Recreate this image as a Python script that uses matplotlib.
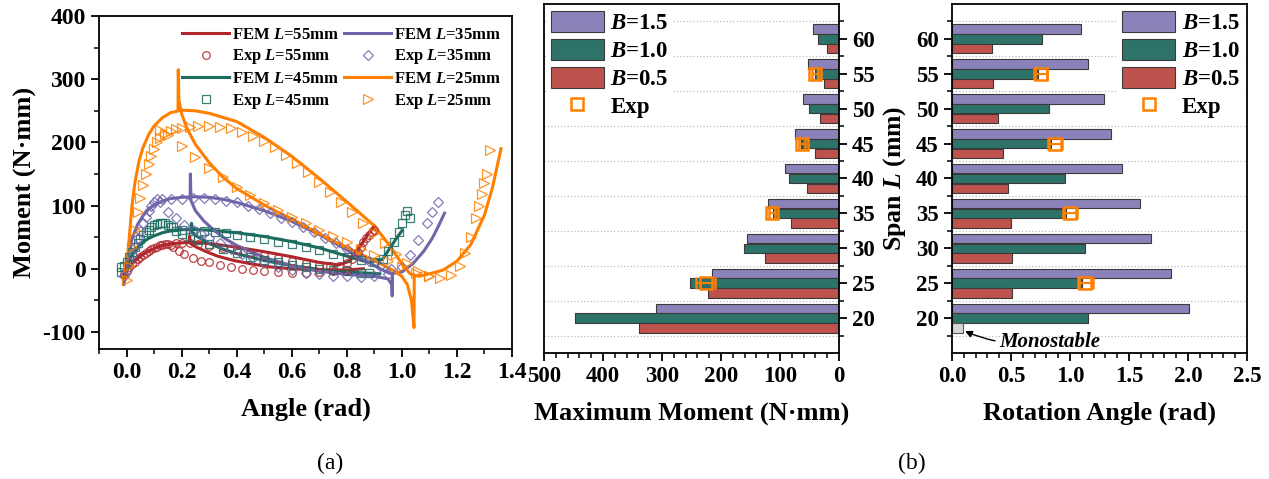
import numpy as np
import matplotlib
matplotlib.use('Agg')
from matplotlib import pyplot as plt
from matplotlib.lines import Line2D
from matplotlib.patches import Patch
from matplotlib.ticker import MultipleLocator, FixedLocator

plt.rcParams['font.family'] = ['Liberation Serif', 'DejaVu Serif']
plt.rcParams['font.weight'] = 'bold'
plt.rcParams['axes.labelweight'] = 'bold'
plt.rcParams['axes.unicode_minus'] = False
plt.rcParams['mathtext.fontset'] = 'custom'
plt.rcParams['mathtext.rm'] = 'Liberation Serif:bold'
plt.rcParams['mathtext.it'] = 'Liberation Serif:italic:bold'
plt.rcParams['mathtext.bf'] = 'Liberation Serif:bold'

# ---- (a) moment vs angle, FEM curves (two branches each) ----
fem55_a_x = [-0.01, 0.0, 0.02, 0.05, 0.08, 0.11, 0.14, 0.17, 0.2, 0.23, 0.27, 0.32, 0.4, 0.5, 0.6, 0.7, 0.77, 0.81, 0.84, 0.87, 0.9]
fem55_a_y = [-8, -2, 8, 20, 28, 34, 38, 40, 41, 42, 41, 39, 34, 27, 19, 10, 6, 12, 30, 50, 68]
fem55_b_x = [0.228, 0.229, 0.232, 0.255, 0.29, 0.33, 0.39, 0.45, 0.52, 0.6, 0.7, 0.8, 0.86]
fem55_b_y = [42, 52, 40, 34, 27, 20, 13, 8, 3, 0, -2, -2, 0]

fem45_a_x = [-0.01, 0.0, 0.02, 0.04, 0.06, 0.08, 0.1, 0.13, 0.16, 0.2, 0.25, 0.3, 0.35, 0.4, 0.5, 0.6, 0.7, 0.8, 0.88, 0.93, 0.96, 0.98, 1.0]
fem45_a_y = [-10, 5, 22, 34, 42, 48, 52, 57, 60, 62, 62, 61, 59, 57, 51, 43, 33, 20, 10, 15, 35, 48, 60]
fem45_b_x = [0.235, 0.236, 0.238, 0.26, 0.3, 0.35, 0.4, 0.5, 0.6, 0.7, 0.8, 0.88, 0.92]
fem45_b_y = [62, 72, 58, 50, 40, 31, 24, 13, 5, -1, -5, -7, -8]

fem35_a_x = [-0.01, -0.005, 0.0, 0.01, 0.02, 0.04, 0.06, 0.08, 0.1, 0.13, 0.16, 0.2, 0.25, 0.3, 0.35, 0.4, 0.5, 0.6, 0.7, 0.8, 0.88, 0.93, 0.96, 1.0, 1.04, 1.08, 1.11, 1.13, 1.155]
fem35_a_y = [-25, -10, 5, 30, 48, 70, 84, 94, 101, 107, 111, 113, 114, 113, 110, 105, 92, 75, 54, 30, 10, -2, -8, -5, 8, 28, 48, 65, 88]
fem35_b_x = [0.231, 0.232, 0.234, 0.25, 0.28, 0.32, 0.36, 0.4, 0.5, 0.6, 0.7, 0.8, 0.9, 0.95, 0.963, 0.965, 0.966]
fem35_b_y = [112, 150, 108, 92, 76, 60, 47, 37, 18, 5, -4, -9, -12, -16, -25, -43, -12]

fem25_a_x = [-0.005, 0.0, 0.01, 0.02, 0.03, 0.045, 0.06, 0.08, 0.1, 0.13, 0.16, 0.2, 0.25, 0.3, 0.4, 0.5, 0.6, 0.7, 0.8, 0.9, 0.95, 1.0, 1.03, 1.06, 1.1, 1.15, 1.2, 1.25, 1.3, 1.33, 1.36]
fem25_a_y = [-17, 0, 50, 100, 135, 170, 192, 212, 226, 239, 247, 251, 250, 246, 233, 208, 178, 143, 106, 68, 40, 8, -8, -12, -8, -2, 12, 38, 85, 130, 190]
fem25_b_x = [0.187, 0.188, 0.19, 0.2, 0.22, 0.25, 0.3, 0.35, 0.4, 0.5, 0.557, 0.6, 0.676, 0.75, 0.8, 0.918, 0.97, 1.0, 1.02, 1.035, 1.044, 1.045]
fem25_b_y = [252, 315, 268, 245, 222, 197, 168, 145, 127, 101, 88, 79, 61, 44, 34, 9, -3, -12, -25, -50, -93, -13]

# ---- (a) experimental points (loading + return branches) ----
exp55_up_x = [-0.01, 0.0, 0.01, 0.02, 0.03, 0.04, 0.05, 0.06, 0.07, 0.08, 0.09, 0.1, 0.11, 0.12, 0.13, 0.14, 0.15, 0.16, 0.18, 0.2, 0.23, 0.26, 0.3, 0.35, 0.4, 0.45, 0.5, 0.55, 0.6, 0.65, 0.7, 0.74, 0.77, 0.8, 0.82, 0.84, 0.85, 0.86, 0.87, 0.88, 0.89, 0.9]
exp55_up_y = [-8, -3, 2, 7, 11, 15, 19, 22, 25, 28, 31, 33, 35, 37, 38, 39, 39, 38, 40, 41, 41, 39, 36, 33, 29, 25, 21, 17, 13, 9, 6, 4, 5, 9, 16, 26, 34, 42, 48, 54, 58, 62]
exp55_dn_x = [0.17, 0.19, 0.21, 0.24, 0.27, 0.3, 0.34, 0.38, 0.42, 0.46, 0.5, 0.55, 0.6, 0.65, 0.7, 0.75, 0.8]
exp55_dn_y = [34, 28, 23, 17, 13, 10, 6, 3, 0, -2, -4, -5, -6, -6, -5, -4, -2]

exp45_up_x = [-0.02, -0.02, -0.01, 0.0, 0.01, 0.02, 0.03, 0.04, 0.05, 0.06, 0.07, 0.08, 0.09, 0.1, 0.11, 0.12, 0.13, 0.14, 0.15, 0.17, 0.2, 0.24, 0.28, 0.32, 0.36, 0.4, 0.45, 0.5, 0.55, 0.6, 0.65, 0.7, 0.75, 0.8, 0.85, 0.9, 0.93, 0.95, 0.97, 0.99, 1.0, 1.01, 1.02, 1.03]
exp45_up_y = [-5, 3, 5, 10, 18, 26, 34, 41, 47, 53, 58, 62, 66, 69, 71, 72, 73, 72, 70, 66, 62, 60, 59, 58, 56, 54, 51, 47, 43, 39, 34, 29, 24, 19, 14, 10, 15, 28, 42, 58, 72, 85, 92, 80]
exp45_dn_x = [0.16, 0.18, 0.2, 0.23, 0.26, 0.3, 0.35, 0.4, 0.45, 0.5, 0.55, 0.6, 0.65, 0.7, 0.75, 0.8, 0.85, 0.88]
exp45_dn_y = [66, 60, 55, 50, 45, 39, 32, 25, 19, 14, 10, 6, 3, 0, -2, -4, -6, -7]

exp35_up_x = [-0.01, 0.0, 0.01, 0.02, 0.03, 0.04, 0.05, 0.06, 0.07, 0.08, 0.09, 0.1, 0.11, 0.13, 0.16, 0.2, 0.24, 0.28, 0.32, 0.36, 0.4, 0.44, 0.48, 0.52, 0.56, 0.6, 0.64, 0.68, 0.72, 0.76, 0.8, 0.84, 0.88, 0.92, 0.96, 1.0, 1.03, 1.06, 1.09, 1.11, 1.13]
exp35_up_y = [-12, -2, 10, 22, 35, 48, 60, 72, 82, 92, 100, 106, 110, 110, 110, 111, 112, 112, 110, 108, 105, 100, 94, 88, 81, 74, 66, 58, 49, 40, 31, 22, 13, 5, -1, 2, 22, 45, 72, 90, 106]
exp35_dn_x = [0.12, 0.15, 0.18, 0.21, 0.24, 0.27, 0.3, 0.34, 0.38, 0.42, 0.46, 0.5, 0.55, 0.6, 0.65, 0.7, 0.75, 0.8, 0.85, 0.9, 0.95]
exp35_dn_y = [106, 90, 80, 70, 62, 55, 48, 40, 32, 24, 17, 10, 3, -2, -6, -9, -11, -12, -13, -12, -8]

exp25_up_x = [0.0, 0.01, 0.02, 0.03, 0.04, 0.05, 0.06, 0.07, 0.08, 0.09, 0.1, 0.11, 0.12, 0.14, 0.16, 0.18, 0.2, 0.23, 0.26, 0.3, 0.34, 0.38, 0.42, 0.46, 0.5, 0.54, 0.58, 0.62, 0.66, 0.7, 0.74, 0.78, 0.82, 0.86, 0.9, 0.94, 0.98, 1.02, 1.06, 1.1, 1.14, 1.18, 1.21, 1.23, 1.25, 1.27, 1.28, 1.29, 1.3, 1.31, 1.32]
exp25_up_y = [-18, 5, 35, 62, 90, 112, 132, 150, 165, 178, 190, 200, 207, 214, 218, 221, 223, 225, 226, 226, 225, 222, 217, 210, 202, 192, 180, 167, 153, 138, 122, 106, 90, 73, 57, 40, 24, 9, -4, -12, -14, -10, 5, 25, 50, 80, 100, 118, 135, 150, 188]
exp25_dn_x = [0.12, 0.15, 0.2, 0.25, 0.3, 0.35, 0.4, 0.45, 0.5, 0.55, 0.6, 0.65, 0.7, 0.75, 0.8, 0.85, 0.9, 0.95, 1.0, 1.05, 1.1]
exp25_dn_y = [220, 212, 195, 177, 160, 145, 130, 117, 104, 93, 82, 72, 62, 52, 42, 32, 22, 12, 2, -6, -12]

# ---- (b) peak moment and rotation angle vs span ----
spans = np.array([20, 25, 30, 35, 40, 45, 50, 55, 60])
moment_b15 = [310, 216, 156, 120, 91, 74, 61, 52, 44]
moment_b10 = [447, 252, 161, 112, 84, 64, 51, 40, 36]
moment_b05 = [339, 222, 125, 81, 55, 41, 33, 26, 21]
angle_b15 = [2.01, 1.86, 1.69, 1.59, 1.44, 1.35, 1.29, 1.15, 1.09]
angle_b10 = [1.15, 1.10, 1.13, 0.97, 0.96, 0.84, 0.82, 0.73, 0.76]
angle_b05 = [np.nan, 0.51, 0.51, 0.50, 0.475, 0.43, 0.39, 0.35, 0.34]
monostable_width = 0.09

exp_spans = np.array([25, 35, 45, 55])
exp_moment = [226, 113, 62, 40]
exp_moment_err = [16, 5, 5, 5]
exp_angle = [1.13, 1.00, 0.87, 0.75]
exp_angle_err = [0.065, 0.06, 0.06, 0.056]

c55, c45, c35, c25 = '#B0262A', '#1B6B5F', '#6F65A8', '#FF8000'
cb15, cb10, cb05 = '#8C82BA', '#2E7369', '#BE524C'
edge = '#3a3a3a'

fig = plt.figure(figsize=(12.69, 4.79), dpi=100)
W, H = 1269, 479


def px_axes(l, t, r, b):
    return fig.add_axes([l / W, 1 - b / H, (r - l) / W, (b - t) / H])


def style_ticks(ax, size):
    ax.tick_params(which='both', direction='out', labelsize=size)
    ax.tick_params(which='major', length=6, width=1.3)
    ax.tick_params(which='minor', length=3.5, width=1.1)
    for s in ax.spines.values():
        s.set_linewidth(1.3)


# ----- panel (a) -----
ax1 = px_axes(99, 16, 512, 349)
lw = 2.2
h_f55, = ax1.plot(fem55_a_x, fem55_a_y, color=c55, lw=lw)
ax1.plot(fem55_b_x, fem55_b_y, color=c55, lw=lw)
h_f45, = ax1.plot(fem45_a_x, fem45_a_y, color=c45, lw=lw)
ax1.plot(fem45_b_x, fem45_b_y, color=c45, lw=lw)
h_f35, = ax1.plot(fem35_a_x, fem35_a_y, color=c35, lw=lw)
ax1.plot(fem35_b_x, fem35_b_y, color=c35, lw=lw)
h_f25, = ax1.plot(fem25_a_x, fem25_a_y, color=c25, lw=lw)
ax1.plot(fem25_b_x, fem25_b_y, color=c25, lw=lw)

mk = dict(ls='none', mfc='none', mew=0.9, alpha=0.85)
h_e55, = ax1.plot(exp55_up_x, exp55_up_y, marker='o', ms=5.5, mec=c55, **mk)
ax1.plot(exp55_dn_x, exp55_dn_y, marker='o', ms=5.5, mec=c55, **mk)
h_e45, = ax1.plot(exp45_up_x, exp45_up_y, marker='s', ms=5.5, mec=c45, **mk)
ax1.plot(exp45_dn_x, exp45_dn_y, marker='s', ms=5.5, mec=c45, **mk)
h_e35, = ax1.plot(exp35_up_x, exp35_up_y, marker='D', ms=5.5, mec=c35, **mk)
ax1.plot(exp35_dn_x, exp35_dn_y, marker='D', ms=5.5, mec=c35, **mk)
h_e25, = ax1.plot(exp25_up_x, exp25_up_y, marker='>', ms=6.5, mec=c25, **mk)
ax1.plot(exp25_dn_x, exp25_dn_y, marker='>', ms=6.5, mec=c25, **mk)

handles = [h_f55, h_e55, h_f45, h_e45, h_f35, h_e35, h_f25, h_e25]
labels = ['FEM $L$=55mm', 'Exp $L$=55mm', 'FEM $L$=45mm', 'Exp $L$=45mm',
          'FEM $L$=35mm', 'Exp $L$=35mm', 'FEM $L$=25mm', 'Exp $L$=25mm']
ax1.legend(handles, labels, loc='upper right', ncol=2, frameon=False, fontsize=12,
           handlelength=2.8, handletextpad=0.2, columnspacing=0.3, labelspacing=0.28,
           borderaxespad=0.25)

ax1.set_xlim(-0.1, 1.4)
ax1.set_ylim(-127, 400)
ax1.xaxis.set_major_locator(MultipleLocator(0.2))
ax1.xaxis.set_minor_locator(MultipleLocator(0.1))
ax1.yaxis.set_major_locator(MultipleLocator(100))
ax1.yaxis.set_minor_locator(MultipleLocator(50))
style_ticks(ax1, 17)
ax1.set_xlabel('Angle (rad)', fontsize=19, labelpad=10)
ax1.set_ylabel('Moment (N·mm)', fontsize=19, labelpad=4)

# ----- panel (b), shared bar layout -----
bh = 1.35
off = 1.4


def bar_panel(ax, v15, v10, v05):
    ax.set_axisbelow(True)
    ax.barh(spans + off, v15, height=bh, color=cb15, edgecolor=edge, lw=0.8)
    ax.barh(spans, v10, height=bh, color=cb10, edgecolor=edge, lw=0.8)
    v05 = np.asarray(v05, dtype=float)
    ok = ~np.isnan(v05)
    ax.barh(spans[ok] - off, v05[ok], height=bh, color=cb05, edgecolor=edge, lw=0.8)
    ax.set_ylim(15, 65)
    ax.yaxis.set_major_locator(FixedLocator(spans))
    ax.yaxis.set_minor_locator(MultipleLocator(5, offset=2.5))
    ax.yaxis.grid(True, which='minor', ls=':', color='#bdbdbd', lw=0.9)


exp_handle = Line2D([], [], ls='none', marker='s', ms=8, mfc='none', mec=c25, mew=1.8)
bar_handles = [Patch(fc=cb15, ec=edge, lw=0.8), Patch(fc=cb10, ec=edge, lw=0.8),
               Patch(fc=cb05, ec=edge, lw=0.8), exp_handle]
bar_labels = ['$B$=1.5', '$B$=1.0', '$B$=0.5', 'Exp']
leg_kw = dict(fontsize=16.5, handlelength=2.3, handleheight=1.05, labelspacing=0.2,
              handletextpad=0.3, borderpad=0.2, frameon=True, facecolor='white',
              edgecolor='none', framealpha=1, fancybox=False)
err_kw = dict(fmt='s', ms=8, mfc='none', mec=c25, mew=1.8, ecolor=c25,
              elinewidth=1.5, capsize=4, capthick=1.5, zorder=5)

ax2 = px_axes(544, 4, 839, 353)
bar_panel(ax2, moment_b15, moment_b10, moment_b05)
ax2.errorbar(exp_moment, exp_spans, xerr=exp_moment_err, **err_kw)
ax2.set_xlim(500, 0)
ax2.xaxis.set_major_locator(MultipleLocator(100))
ax2.xaxis.set_minor_locator(MultipleLocator(20))
ax2.yaxis.tick_right()
style_ticks(ax2, 16.5)
ax2.tick_params(axis='y', which='both', left=False, right=True)
ax2.set_xlabel('Maximum Moment (N·mm)', fontsize=19, labelpad=10)
ax2.legend(bar_handles, bar_labels, loc='upper left', borderaxespad=0.1, **leg_kw)

ax3 = px_axes(952, 4, 1247, 353)
bar_panel(ax3, angle_b15, angle_b10, angle_b05)
ax3.barh(spans[0] - off, monostable_width, height=bh, color='#d6d6d6',
         edgecolor='#555555', lw=0.8, hatch='/')
ax3.errorbar(exp_angle, exp_spans, xerr=exp_angle_err, **err_kw)
ax3.annotate('Monostable', xy=(0.1, 18.2), xytext=(0.4, 16.6), ha='left', va='center',
             fontsize=15, style='italic', fontweight='bold',
             arrowprops=dict(arrowstyle='-|>', color='black', lw=1.0, mutation_scale=10,
                             shrinkA=1, shrinkB=1, connectionstyle='arc3,rad=-0.15'))
ax3.set_xlim(0, 2.5)
ax3.xaxis.set_major_locator(MultipleLocator(0.5))
ax3.xaxis.set_minor_locator(MultipleLocator(0.1))
style_ticks(ax3, 16.5)
ax3.tick_params(axis='y', which='both', right=False)
ax3.set_xlabel('Rotation Angle (rad)', fontsize=19, labelpad=10)
ax3.set_ylabel('Span $L$ (mm)', fontsize=18.5, labelpad=6)
ax3.legend(bar_handles, bar_labels, loc='upper right', borderaxespad=0.1, **leg_kw)

for ax in (ax1, ax2, ax3):
    ax.tick_params(which='both', top=False)
ax1.tick_params(which='both', right=False)

fig.text(330 / W, 1 - 463 / H, '(a)', ha='center', va='center', fontsize=17, fontweight='normal')
fig.text(912 / W, 1 - 463 / H, '(b)', ha='center', va='center', fontsize=17, fontweight='normal')

fig.savefig('out.png', dpi=100)
